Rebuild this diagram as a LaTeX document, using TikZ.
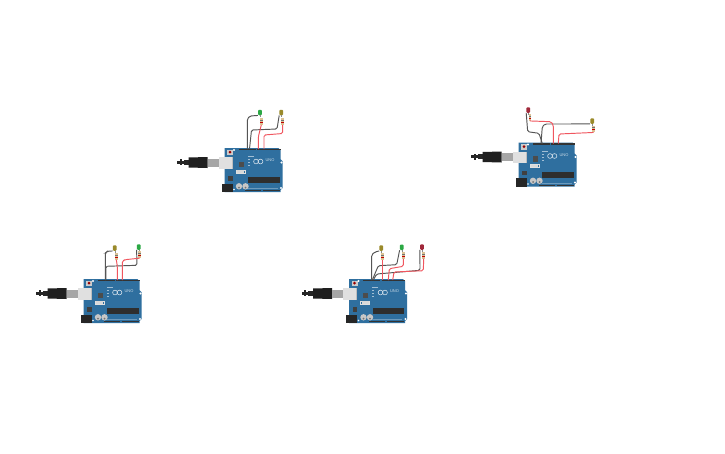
\documentclass[tikz,border=0pt]{standalone}
\usepackage{fontspec}
\setmainfont{Liberation Sans}
\definecolor{brd}{HTML}{2F6F9F}
\definecolor{wblk}{HTML}{555555}
\definecolor{wred}{HTML}{F0565F}
\definecolor{ledg}{HTML}{2BA844}
\definecolor{ledy}{HTML}{9A8A2A}
\definecolor{ledr}{HTML}{A0283A}
\definecolor{res}{HTML}{DCC294}
\tikzset{
  wb/.style={draw=wblk,line width=0.95pt,rounded corners=1.5pt},
  wr/.style={draw=wred,line width=0.95pt,rounded corners=1.5pt},
  ledbody/.style={draw=none,rounded corners=1pt,minimum width=3.8pt,minimum height=5.5pt,inner sep=0pt},
  resbody/.style={draw=none,fill=res,minimum width=2.8pt,minimum height=6.5pt,inner sep=0pt},
  hdr/.style={fill=black!80},
  silver/.style={fill=black!22}
}
% board with USB lead; #1 name prefix, #2 x, #3 y
\newcommand{\arduinoboard}[3]{%
\begin{scope}[shift={(#2,#3)}]
  % cable and plug
  \fill[black!85] (-47.5,12.5) rectangle (-38,15.5);
  \fill[black!85] (-45,11) rectangle (-43,17);
  \fill[black!85] (-41,11.5) rectangle (-36,16.5);
  \fill[black!88] (-36,9.5) -- (-17,9) -- (-17,20) -- (-36,19.5) -- cycle;
  \fill[black!35] (-17,10.5) rectangle (-6,18.5);
  % board
  \fill[brd] (0,0) -- (54,0) -- (56,2) -- (56,11) -- (58,13) -- (58,40) -- (56,42) -- (56,44) -- (0,44) -- cycle;
  % usb socket
  \fill[black!12] (-6,9) rectangle (8,20.5);
  \fill[black!25] (7,9) rectangle (8,20.5);
  % jack
  \fill[black!85] (-3,35.5) rectangle (8,44);
  % top headers
  \fill[hdr] (14,0.8) rectangle (31,2.4);
  \fill[hdr] (32.5,0.8) rectangle (56,2.4);
  % bottom headers
  \fill[hdr] (20,42.2) rectangle (36,43.4);
  \fill[hdr] (38,42.2) rectangle (55,43.4);
  % reset
  \fill[black!20] (2.5,1.5) rectangle (8.5,7);
  \fill[red!60!black] (5.5,4.2) circle (1.5pt);
  % holes
  \fill[white] (9.5,2) circle (1.1pt);
  \fill[white] (57,14.5) circle (1.1pt);
  \fill[white] (56.5,40) circle (1.1pt);
  \fill[white] (9.5,41.5) circle (0.8pt);
  % chips
  \fill[black!82] (23.5,29) rectangle (55,35.2);
  \fill[black!70] (14,13.5) rectangle (19,19);
  \fill[black!75] (3.5,28) rectangle (8,32.5);
  \fill[black!12] (11,21.5) rectangle (21,25.5);
  \fill[brd] (12,22.5) rectangle (20,24.5);
  \fill[black!15] (12.5,22.3) rectangle (19.5,24.7);
  \fill[black!22] (14.5,38.3) circle (3.2pt);
  \fill[black!22] (21,38.3) circle (3.2pt);
  \fill[black!55] (14.5,39.5) circle (1pt);
  \fill[black!55] (21,39.5) circle (1pt);
  % small parts
  \fill[white!55!brd] (23,8) rectangle (29,8.8);
  \fill[white!55!brd] (23,11) rectangle (25,11.8);
  \fill[white!55!brd] (23,14) rectangle (25,14.8);
  \fill[white!55!brd] (23,17) rectangle (25,17.8);
  \fill[white!30!brd] (23,40) rectangle (53,41);
  % logo
  \draw[white!85!brd,line width=0.55pt] (31.5,13.5) circle (2.4pt);
  \draw[white!85!brd,line width=0.55pt] (36,13.5) circle (2.4pt);
  \node[inner sep=0pt,text=white!75!brd,font=\fontsize{4}{4.5}\selectfont] (#1uno) at (45.5,12.5) {UNO};
  \coordinate (#1top) at (0,0);
\end{scope}}
\newcommand{\ledres}[5]{% name, colour, led x,y ; resistor centre
  \node[ledbody,fill=#2] (#1) at (#3,#4) {};
  \draw[black!45,line width=0.4pt] (#1.south) -- ++(0,2);
  \node[resbody] (#1r) at (#5) {};
  \fill[red!75!black] ([yshift=-1.2pt]#1r.center) rectangle ++(1.4pt,0.9pt);
  \fill[red!75!black] ([yshift=-1.2pt]#1r.center) rectangle ++(-1.4pt,0.9pt);
  \fill[black!55] ([yshift=1pt]#1r.center) rectangle ++(1.4pt,0.6pt);
  \fill[black!55] ([yshift=1pt]#1r.center) rectangle ++(-1.4pt,0.6pt);
}
\begin{document}
\begin{tikzpicture}[x=1pt,y=-1pt]
\useasboundingbox[fill=white] (0,0) rectangle (725,453);

% ---------- top-left circuit
\arduinoboard{a}{224.5}{148}
\ledres{ag}{ledg}{260}{112.5}{261.3,121.5}
\ledres{ay}{ledy}{281.3}{112.5}{282.7,121.5}
\coordinate (ap1) at (247.3,149);
\coordinate (ap2) at (249.5,149);
\coordinate (ap3) at (258.3,149);
\coordinate (ap4) at (264,149);
\draw[wb] (ap1) -- (247.3,119) -- (250,116) -- (ag.south west);
\draw[wb] (ap2) -- (251.5,130) -- (277,129) -- (ay.south west);
\draw[wr] (ap3) -- (258.3,137) -- (agr.south);
\draw[wr] (ap4) -- (264,135) -- (282.7,133.5) -- (ayr.south);

% ---------- top-right circuit
\arduinoboard{b}{518.5}{142.5}
\ledres{br}{ledr}{528.3}{110}{530,117.5}
\ledres{by}{ledy}{592.3}{121}{593.7,129}
\coordinate (bp1) at (542.3,143.5);
\coordinate (bp2) at (541,143.5);
\coordinate (bp3) at (553.3,143.5);
\coordinate (bp4) at (558.3,143.5);
\draw[wb] (bp1) -- (539,133.3) -- (527.7,131.7) -- (br.south west);
\draw[wb] (bp2) -- (542.3,126.7) -- (545,124) -- (by.south west);
\draw[wr] (bp3) -- (553.3,125) -- (551,121.7) -- (brr.south);
\draw[wr] (bp4) -- (559,134) -- (byr.south);

% ---------- bottom-left circuit
\arduinoboard{c}{83.5}{279}
\ledres{cy}{ledy}{114.7}{248}{116.3,256.3}
\ledres{cg}{ledg}{138.7}{247}{139.7,254.7}
\coordinate (cp1) at (105.3,280);
\coordinate (cp2) at (105.8,280);
\coordinate (cp3) at (117.3,280);
\coordinate (cp4) at (122.3,280);
\draw[wb] (cp1) -- (105.3,253) -- (107.3,251.3) -- (cy.south west);
\draw[wb] (cp2) -- (105.8,266.3) -- (137,265.3) -- (cg.south west);
\draw[wr] (cp3) -- (117.3,266) -- (cyr.south);
\draw[wr] (cp4) -- (122.3,261) -- (125,259.7) -- (cgr.south);

% ---------- bottom-right circuit
\arduinoboard{d}{349}{279}
\ledres{dy}{ledy}{381.3}{248}{382.7,256.3}
\ledres{dg}{ledg}{401.7}{247.3}{403.3,255.3}
\ledres{dr}{ledr}{422}{247}{423.7,255.3}
\coordinate (dp1) at (371.7,280);
\coordinate (dp2) at (372.3,280);
\coordinate (dp3) at (373.3,280);
\coordinate (dp4) at (382.7,280);
\coordinate (dp5) at (388.3,280);
\coordinate (dp6) at (392.7,280);
\draw[wb] (dp1) -- (371.7,254.7) -- (375,252) -- (dy.south west);
\draw[wb] (dp2) -- (378.3,265.7) -- (396.7,264.7) -- (dg.south west);
\draw[wb] (dp3) -- (376.7,274) -- (420,270.3) -- (dr.south west);
\draw[wr] (dp4) -- (dyr.south);
\draw[wr] (dp5) -- (389.3,268.7) -- (403.3,266.3) -- (dgr.south);
\draw[wr] (dp6) -- (394,272) -- (423.3,270.7) -- (drr.south);
\end{tikzpicture}
\end{document}
